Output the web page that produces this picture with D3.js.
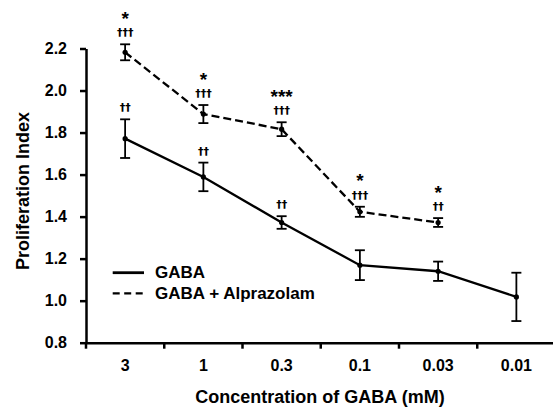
<!DOCTYPE html>
<html>
<head>
<meta charset="utf-8">
<script src="https://cdn.jsdelivr.net/npm/d3@7"></script>
<style>
  body { margin: 0; background: #fff; }
  text { font-family: "Liberation Sans", Arial, sans-serif; font-weight: bold; fill: #000; }
  text.dag { font-family: "DejaVu Sans", sans-serif; }
</style>
</head>
<body>
<div id="chart"></div>
<script>
// data
var categories = ["3", "1", "0.3", "0.1", "0.03", "0.01"];
var gabaMean = [1.771, 1.589, 1.372, 1.169, 1.14, 1.018];
var gabaErr = [0.092, 0.068, 0.03, 0.071, 0.046, 0.115];
var alpMean = [2.182, 1.888, 1.816, 1.423, 1.372];
var alpErr = [0.038, 0.043, 0.033, 0.024, 0.021];
var gabaDaggers = ["\u2020\u2020", "\u2020\u2020", "\u2020\u2020", "", "", ""];
var alpStars = ["*", "*", "***", "*", "*"];
var alpDaggers = ["\u2020\u2020\u2020", "\u2020\u2020\u2020", "\u2020\u2020\u2020", "\u2020\u2020\u2020", "\u2020\u2020"];
var yTicks = [0.8, 1.0, 1.2, 1.4, 1.6, 1.8, 2.0, 2.2];

var width = 553,
    height = 408,
    plotLeft = 86,
    plotRight = 555.5,
    plotTop = 48.5,
    plotBottom = 342.7;

var svg = d3.select("#chart").append("svg")
  .attr("width", width)
  .attr("height", height);

var x = d3.scaleBand().domain(categories).range([plotLeft, plotRight]);
var y = d3.scaleLinear().domain([0.8, 2.2]).range([plotBottom, plotTop]);
var cx = function (c) { return x(c) + x.bandwidth() / 2; };

function series(mean, err) {
  return mean.map(function (m, i) { return {c: categories[i], m: m, e: err[i]}; });
}
var gaba = series(gabaMean, gabaErr);
var alp = series(alpMean, alpErr);

// axes
var yAxis = svg.append("g")
  .attr("transform", "translate(" + plotLeft + ",0)")
  .call(d3.axisLeft(y).tickValues(yTicks).tickFormat(d3.format(".1f"))
    .tickSize(6).tickSizeOuter(0).tickPadding(13));
yAxis.select(".domain").attr("stroke-width", 2.5);
yAxis.selectAll(".tick line").attr("stroke-width", 2.5);
yAxis.selectAll("text").style("font-size", "16px").attr("fill", "#000");

var xAxis = svg.append("g")
  .attr("transform", "translate(0," + plotBottom + ")")
  .call(d3.axisBottom(x).tickSize(0).tickPadding(16.5));
xAxis.select(".domain").attr("stroke-width", 2.5);
xAxis.selectAll("text").style("font-size", "16px").attr("fill", "#000");

svg.selectAll("line.xtick")
  .data(categories)
  .enter().append("line")
    .attr("class", "xtick")
    .attr("x1", function (d) { return x(d); })
    .attr("x2", function (d) { return x(d); })
    .attr("y1", plotBottom)
    .attr("y2", plotBottom + 6)
    .attr("stroke", "#000")
    .attr("stroke-width", 2.5);

svg.append("text")
  .text("Concentration of GABA (mM)")
  .attr("x", 320)
  .attr("y", 403)
  .attr("text-anchor", "middle")
  .style("font-size", "18px");

svg.append("text")
  .text("Proliferation Index")
  .attr("transform", "translate(28.5,191) rotate(-90)")
  .attr("text-anchor", "middle")
  .style("font-size", "18px");

// lines
var line = d3.line()
  .x(function (d) { return cx(d.c); })
  .y(function (d) { return y(d.m); });

svg.append("path")
  .datum(gaba)
  .attr("d", line)
  .attr("fill", "none")
  .attr("stroke", "#000")
  .attr("stroke-width", 2.3);

svg.append("path")
  .datum(alp)
  .attr("d", line)
  .attr("fill", "none")
  .attr("stroke", "#000")
  .attr("stroke-width", 2.3)
  .attr("stroke-dasharray", "8,4");

// error bars + dots
function drawErr(data, cls) {
  var g = svg.selectAll("g." + cls)
    .data(data)
    .enter().append("g")
      .attr("class", cls);
  g.append("line")
    .attr("x1", function (d) { return cx(d.c); })
    .attr("x2", function (d) { return cx(d.c); })
    .attr("y1", function (d) { return y(d.m - d.e); })
    .attr("y2", function (d) { return y(d.m + d.e); });
  g.append("line")
    .attr("x1", function (d) { return cx(d.c) - 5; })
    .attr("x2", function (d) { return cx(d.c) + 5; })
    .attr("y1", function (d) { return y(d.m + d.e); })
    .attr("y2", function (d) { return y(d.m + d.e); });
  g.append("line")
    .attr("x1", function (d) { return cx(d.c) - 5; })
    .attr("x2", function (d) { return cx(d.c) + 5; })
    .attr("y1", function (d) { return y(d.m - d.e); })
    .attr("y2", function (d) { return y(d.m - d.e); });
  g.selectAll("line").attr("stroke", "#000").attr("stroke-width", 1.8);
  g.append("circle")
    .attr("cx", function (d) { return cx(d.c); })
    .attr("cy", function (d) { return y(d.m); })
    .attr("r", 2.6)
    .attr("fill", "#000");
}
drawErr(gaba, "gaba");
drawErr(alp, "alp");

// significance marks
svg.selectAll("text.gdag")
  .data(gaba)
  .enter().append("text")
    .attr("class", "gdag dag")
    .attr("x", function (d) { return cx(d.c); })
    .attr("y", function (d) { return y(d.m + d.e) - 8; })
    .attr("text-anchor", "middle")
    .style("font-size", "11px")
    .text(function (d, i) { return gabaDaggers[i]; });

svg.selectAll("text.adag")
  .data(alp)
  .enter().append("text")
    .attr("class", "adag dag")
    .attr("x", function (d) { return cx(d.c); })
    .attr("y", function (d) { return y(d.m + d.e) - 8; })
    .attr("text-anchor", "middle")
    .style("font-size", "11px")
    .text(function (d, i) { return alpDaggers[i]; });

svg.selectAll("text.astar")
  .data(alp)
  .enter().append("text")
    .attr("class", "astar")
    .attr("x", function (d) { return cx(d.c); })
    .attr("y", function (d) { return y(d.m + d.e) - 19.5; })
    .attr("text-anchor", "middle")
    .style("font-size", "19px")
    .text(function (d, i) { return alpStars[i]; });

// legend
svg.append("line")
  .attr("x1", 112.7).attr("x2", 144)
  .attr("y1", 272.7).attr("y2", 272.7)
  .attr("stroke", "#000").attr("stroke-width", 2.8);
svg.append("line")
  .attr("x1", 112.7).attr("x2", 144)
  .attr("y1", 293.3).attr("y2", 293.3)
  .attr("stroke", "#000").attr("stroke-width", 2.2)
  .attr("stroke-dasharray", "7,4.5");
svg.append("text")
  .text("GABA")
  .attr("x", 155).attr("y", 278)
  .style("font-size", "17px");
svg.append("text")
  .text("GABA + Alprazolam")
  .attr("x", 155).attr("y", 299)
  .style("font-size", "17px");
</script>
</body>
</html>
